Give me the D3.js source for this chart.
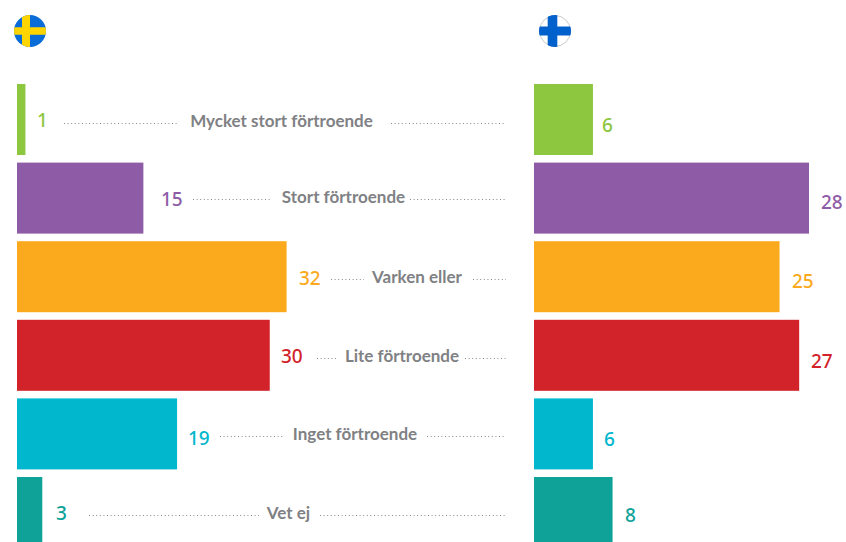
<!DOCTYPE html>
<html><head><meta charset="utf-8">
<script src="https://cdn.jsdelivr.net/npm/d3@7"></script>
<style>html,body{margin:0;padding:0;background:#fff;overflow:hidden}svg{display:block}
text{font-family:"Noto Sans",sans-serif}</style></head><body>
<script>
const categories = ["Mycket stort förtroende","Stort förtroende","Varken eller","Lite förtroende","Inget förtroende","Vet ej"];
const sweden = [1,15,32,30,19,3];
const finland = [6,28,25,27,6,8];
const colours = ["#8DC63F","#8E5BA6","#FBAA1D","#D2232A","#00B7CE","#0FA298"];

// layout (pixel positions only)
const seLabelX = [37,161,299,281,188,56], seLabelBase = [127,206,285,363,445,520];
const fiLabelX = [602,821,792,811,604,625], fiLabelBase = [132,209,288,368,446,522];
const catCentre = [281.5,343.5,417,402,355,288.5], catBase = [127,203,283,362,440,519];
const dotsL = [[64,177],[193,271],[331,364],[317,338],[220,284],[89,259]];
const dotsR = [[391,506],[410,506],[473,506],[465,506],[427,506],[320,506]];

const W=846,H=542;
const svg=d3.select("body").append("svg").attr("width",W).attr("height",H);
const y=d3.scaleBand().domain(categories).range([84,548]).paddingInner(0.0967).paddingOuter(0).align(0);
const xSe=d3.scaleLinear().domain([0,32]).range([17,286.6]);
const xFi=d3.scaleLinear().domain([0,28]).range([534,809]);
const rows=categories.map((c,i)=>({c,i,se:sweden[i],fi:finland[i]}));

svg.selectAll("rect.se").data(rows).join("rect").attr("class","se")
 .attr("x",xSe(0)).attr("y",d=>y(d.c)).attr("width",d=>xSe(d.se)-xSe(0)).attr("height",y.bandwidth()).attr("fill",(d)=>colours[d.i]);
svg.selectAll("rect.fi").data(rows).join("rect").attr("class","fi")
 .attr("x",xFi(0)).attr("y",d=>y(d.c)).attr("width",d=>xFi(d.fi)-xFi(0)).attr("height",y.bandwidth()).attr("fill",(d)=>colours[d.i]);

svg.selectAll("text.vs").data(rows).join("text").attr("class","vs")
 .attr("x",d=>seLabelX[d.i]).attr("y",d=>seLabelBase[d.i]).attr("font-size",19).attr("font-weight",500)
 .attr("fill",d=>colours[d.i]).text(d=>d.se);
svg.selectAll("text.vf").data(rows).join("text").attr("class","vf")
 .attr("x",d=>fiLabelX[d.i]).attr("y",d=>fiLabelBase[d.i]).attr("font-size",19).attr("font-weight",500)
 .attr("fill",d=>colours[d.i]).text(d=>d.fi);
svg.selectAll("text.cat").data(rows).join("text").attr("class","cat")
 .attr("x",d=>catCentre[d.i]).attr("y",d=>catBase[d.i]).attr("text-anchor","middle")
 .style("font-family","Lato, 'Noto Sans', sans-serif")
 .attr("font-size",17).attr("font-weight",700).attr("fill","#808184").text(d=>d.c);

[dotsL,dotsR].forEach(seg=>{
 svg.append("g").selectAll("line").data(rows).join("line")
  .attr("x1",d=>seg[d.i][0]).attr("x2",d=>seg[d.i][1])
  .attr("y1",d=>catBase[d.i]-3.5).attr("y2",d=>catBase[d.i]-3.5)
  .attr("stroke","#8a8b8e").attr("stroke-width",1).attr("stroke-dasharray","1 2.6");
});

// flags
function flag(cx,cy,r,bg,cross,vx,armV,armH,ring){
 const id="c"+cx;
 svg.append("clipPath").attr("id",id).append("circle").attr("cx",cx).attr("cy",cy).attr("r",r);
 if(ring) svg.append("circle").attr("cx",cx).attr("cy",cy).attr("r",r-.5).attr("fill",bg).attr("stroke","#c9cacc").attr("stroke-width",1);
 const g=svg.append("g").attr("clip-path",`url(#${id})`);
 if(!ring) g.append("rect").attr("x",cx-r).attr("y",cy-r).attr("width",2*r).attr("height",2*r).attr("fill",bg);
 g.append("rect").attr("x",vx).attr("y",cy-r).attr("width",armV).attr("height",2*r).attr("fill",cross);
 g.append("rect").attr("x",cx-r).attr("y",cy-armH/2).attr("width",2*r).attr("height",armH).attr("fill",cross);
}
flag(30,31,16,"#0A6CD6","#FFD500",22,8,7.5,false);
flag(555,31,16,"#fff","#0060CC",547.7,9.6,9,true);
</script></body></html>
